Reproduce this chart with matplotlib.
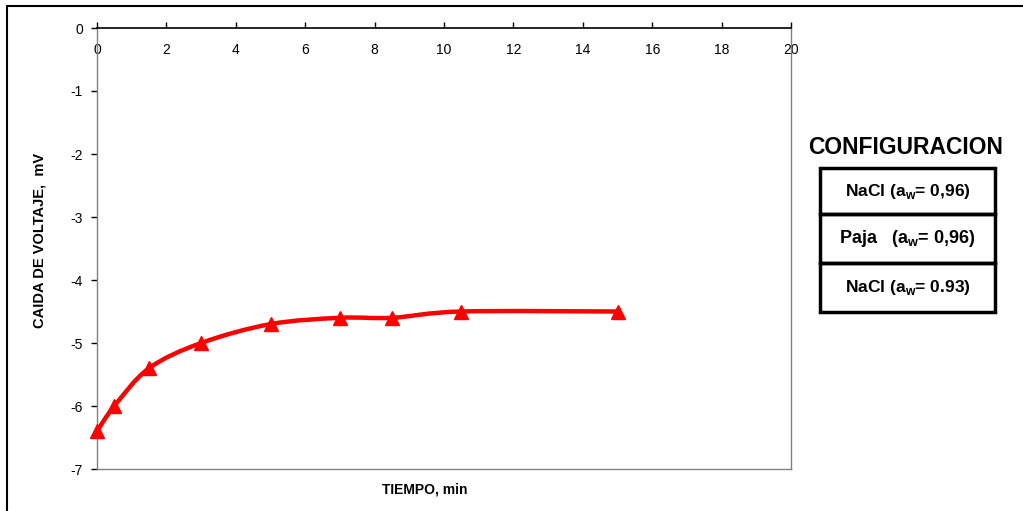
import matplotlib
matplotlib.use("Agg")
import matplotlib.pyplot as plt
import numpy as np
from matplotlib.path import Path
from matplotlib.patches import PathPatch, Rectangle

plt.rcParams['font.family'] = ['Liberation Sans', 'DejaVu Sans']
plt.rcParams['mathtext.fontset'] = 'custom'
plt.rcParams['mathtext.bf'] = 'Liberation Sans:bold'
plt.rcParams['mathtext.rm'] = 'Liberation Sans'

# Measurements: time (min) vs voltage drop (mV)
tiempo = [0, 0.5, 1.5, 3, 5, 7, 8.5, 10.5, 15]
caida = [-6.4, -6.0, -5.4, -5.0, -4.7, -4.6, -4.6, -4.5, -4.5]

x_ticks = [0, 2, 4, 6, 8, 10, 12, 14, 16, 18, 20]
y_ticks = [0, -1, -2, -3, -4, -5, -6, -7]

config_title = "CONFIGURACION"
config_rows = [r"NaCl (a$_\mathbf{w}$= 0,96)",
               r"Paja   (a$_\mathbf{w}$= 0,96)",
               r"NaCl (a$_\mathbf{w}$= 0.93)"]
config_sizes = [12.5, 13, 12.5]

fig = plt.figure(figsize=(10.23, 5.11), dpi=100)
ax = fig.add_axes([97/1023, 1-469/511, (791-97)/1023, (469-28)/511])


def smooth_path(xs, ys):
    """Cubic Bezier path through the points (Catmull-Rom style smoothing)."""
    pts = np.column_stack([xs, ys]).astype(float)
    n = len(pts)
    verts = [pts[0]]
    codes = [Path.MOVETO]
    for i in range(n - 1):
        p0 = pts[i - 1] if i > 0 else pts[i]
        p1 = pts[i]
        p2 = pts[i + 1]
        p3 = pts[i + 2] if i + 2 < n else pts[i + 1]
        c1 = p1 + (p2 - p0) / 6.0
        c2 = p2 - (p3 - p1) / 6.0
        verts += [c1, c2, p2]
        codes += [Path.CURVE4] * 3
    return Path(verts, codes)


ax.add_patch(PathPatch(smooth_path(tiempo, caida), facecolor='none',
                       edgecolor='#ff0000', lw=3.2, capstyle='round',
                       joinstyle='round', zorder=3))
ax.plot(tiempo, caida, linestyle='none', marker='^', markersize=10,
        color='#ff0000', zorder=4, clip_on=False)

ax.set_xlim(0, 20)
ax.set_ylim(-7, 0)
ax.set_xticks(x_ticks)
ax.set_yticks(y_ticks)
ax.set_xticklabels([str(v) for v in x_ticks])
ax.set_yticklabels([str(v) for v in y_ticks])

ax.xaxis.set_ticks_position('top')
ax.tick_params(axis='x', top=True, bottom=False, labeltop=True,
               labelbottom=False, direction='out', length=4, width=1,
               pad=-25, labelsize=10, colors='black')
ax.tick_params(axis='y', direction='out', length=4, width=1, pad=6,
               labelsize=10, colors='black')

ax.spines['top'].set_color('black')
ax.spines['top'].set_linewidth(1.2)
for s in ['left', 'right', 'bottom']:
    ax.spines[s].set_color('#808080')
    ax.spines[s].set_linewidth(1.0)

fig.text(425/1023, 1-490/511, "TIEMPO, min", ha='center', va='center',
         fontsize=10, fontweight='bold')
fig.text(40/1023, 1-240/511, "CAIDA DE VOLTAJE,  mV", ha='center',
         va='center', rotation=90, fontsize=10.5, fontweight='bold')

# Configuration legend on the right
fig.text(906/1023, 1-148/511, config_title, ha='center', va='center',
         fontsize=16.5, fontweight='bold')
box_left, box_right = 820, 995
row_edges = [168, 214, 263, 312]
for i, label in enumerate(config_rows):
    top, bot = row_edges[i], row_edges[i + 1]
    fig.patches.append(Rectangle((box_left/1023, 1-bot/511),
                                 (box_right-box_left)/1023, (bot-top)/511,
                                 transform=fig.transFigure, fill=False,
                                 edgecolor='black', lw=2.5))
    fig.text((box_left+box_right)/2/1023, 1-(top+bot)/2/511, label,
             ha='center', va='center', fontsize=config_sizes[i],
             fontweight='bold')

# Outer frame
fig.patches.append(Rectangle((7/1023, -0.05), 1.2, 1-6/511+0.05,
                             transform=fig.transFigure, fill=False,
                             edgecolor='black', lw=1.5))

fig.savefig("out.png", dpi=100)
